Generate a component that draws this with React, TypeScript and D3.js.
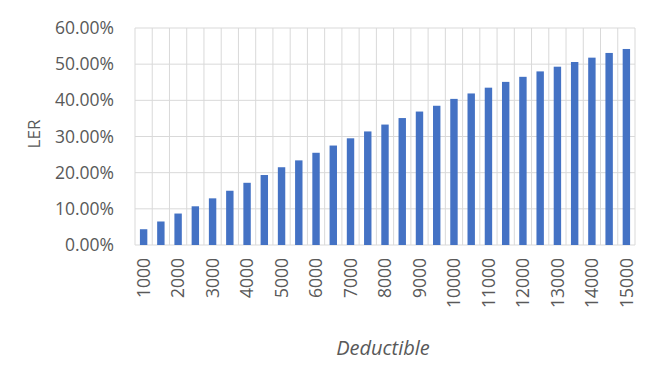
import React from "react";
import * as d3 from "d3";

const deductibles = [1000,1500,2000,2500,3000,3500,4000,4500,5000,5500,6000,6500,7000,7500,8000,8500,9000,9500,10000,10500,11000,11500,12000,12500,13000,13500,14000,14500,15000];
const lerValues = [0.0436,0.065,0.087,0.107,0.129,0.150,0.172,0.1935,0.215,0.234,0.255,0.275,0.295,0.314,0.333,0.351,0.369,0.385,0.404,0.419,0.435,0.451,0.465,0.480,0.493,0.506,0.518,0.531,0.542];
const yTicks = [0,0.1,0.2,0.3,0.4,0.5,0.6];
const xTitle = "Deductible";
const yTitle = "LER";

export default function App() {
  const W = 665, H = 378;
  const left = 135, right = 635, top = 28, bottom = 245;
  const x = d3.scaleBand<number>().domain(deductibles).range([left, right]).paddingInner(0.57).paddingOuter(0.285);
  const xb = d3.scaleBand<number>().domain(deductibles).range([left, right]);
  const y = d3.scaleLinear().domain([0, 0.6]).range([bottom, top]);
  const fmt = d3.format(".2%");
  const font = "'Open Sans', sans-serif";
  const grid = "#d9d9d9";
  const txt = "#595959";
  return (
    <svg width={W} height={H} style={{ position: "absolute", left: 0, top: 0, background: "#fff" }} fontFamily={font}>
      <rect x={0} y={0} width={W} height={H} fill="#fff" />
      {yTicks.map((t) => (
        <line key={"h" + t} x1={left} x2={right} y1={y(t)} y2={y(t)} stroke={grid} strokeWidth={1} />
      ))}
      {deductibles.map((d) => (
        <line key={"v" + d} x1={xb(d)!} x2={xb(d)!} y1={top} y2={bottom} stroke={grid} strokeWidth={1} />
      ))}
      <line x1={right} x2={right} y1={top} y2={bottom} stroke={grid} strokeWidth={1} />
      {deductibles.map((d, i) => (
        <rect key={"b" + d} x={x(d)!} width={x.bandwidth()} y={y(lerValues[i])} height={y(0) - y(lerValues[i])} fill="#4472C4" />
      ))}
      {yTicks.map((t) => (
        <text key={"yl" + t} x={114} y={y(t)} dy="0.35em" textAnchor="end" fontSize={17.5} fill={txt}>{fmt(t)}</text>
      ))}
      {deductibles.map((d, i) => i % 2 === 0 ? (
        <text key={"xl" + d} transform={`translate(${x(d)! + x.bandwidth() / 2},${258}) rotate(-90)`} dy="0.35em" textAnchor="end" fontSize={17.5} fill={txt}>{d}</text>
      ) : null)}
      <text transform={`translate(34,134) rotate(-90)`} dy="0.35em" textAnchor="middle" fontSize={17} fill={txt}>{yTitle}</text>
      <text x={383} y={355} textAnchor="middle" fontSize={20} fontStyle="italic" fill={txt}>{xTitle}</text>
    </svg>
  );
}
